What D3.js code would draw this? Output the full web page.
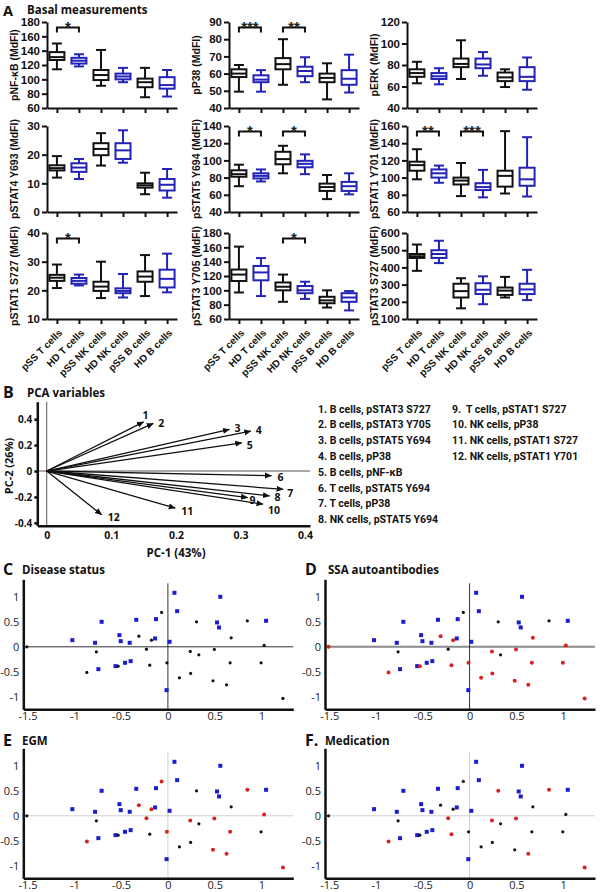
<!DOCTYPE html>
<html>
<head>
<meta charset="utf-8">
<script src="https://cdn.jsdelivr.net/npm/d3@7"></script>
<style>
body { margin: 0; background: #fff; }
svg { display: block; }
</style>
</head>
<body>
<svg id="fig" width="600" height="892"></svg>
<script>
// ---------- A: basal measurements, boxes are [min, q1, median, q3, max]
const cellGroups = ["pSS T cells", "HD T cells", "pSS NK cells", "HD NK cells", "pSS B cells", "HD B cells"];
const markerLabels = ["pNF-κB (MdFI)", "pP38 (MdFI)", "pERK (MdFI)",
    "pSTAT4 Y693 (MdFI)", "pSTAT5 Y694 (MdFI)", "pSTAT1 Y701 (MdFI)",
    "pSTAT1 S727 (MdFI)", "pSTAT3 Y705 (MdFI)", "pSTAT3 S727 (MdFI)"];
const markerRanges = [[60, 180], [40, 90], [40, 120], [0, 30], [40, 140], [60, 160], [10, 40], [60, 180], [100, 600]];
const markerTickSteps = [20, 10, 20, 10, 20, 20, 10, 20, 100];

const nfkbBoxes = [[114, 127, 131, 138, 150], [118, 122, 126, 130, 135], [91, 99, 106, 113, 141], [96, 100, 104, 108, 116], [75, 89, 96, 101, 116], [76, 87, 92, 103, 113]];
const p38Boxes = [[49.5, 58, 60, 62.5, 65], [49.5, 55, 56.5, 59, 62], [53.5, 62.5, 65.5, 69, 80], [55, 58.5, 61.5, 64, 69.5], [45, 55, 57.5, 60, 66], [49, 53.5, 57, 62, 71]];
const erkBoxes = [[63, 69, 72.5, 76, 83], [62, 67, 69.5, 72.5, 77], [67, 78, 81, 86, 103], [70, 77, 80.5, 86, 92], [59.5, 65, 68.5, 73, 76], [57, 65, 69, 78, 87]];
const stat4Boxes = [[12, 14.5, 15.3, 16.3, 19.5], [11.5, 14, 15.5, 17, 18.5], [16.2, 19.8, 22, 24, 27.5], [17.2, 18.5, 21.5, 24, 28.5], [6.2, 8.5, 9.3, 10, 13.7], [5, 7.5, 9.5, 11.5, 15]];
const stat5Boxes = [[70, 81, 84, 88.5, 95], [75.5, 79, 82, 85, 89.5], [85, 95.5, 101.5, 110, 117], [84, 92, 96, 99.5, 107], [55, 64.5, 69, 73, 83], [60.5, 64.5, 70, 75, 85]];
const stat1YBoxes = [[98, 108, 114.5, 118.5, 133], [94, 100, 105, 109.5, 114], [78.5, 92, 96.5, 100, 117], [77, 85.5, 89, 93.5, 109], [81.5, 89.5, 102, 108, 154], [78, 90.5, 98, 111.5, 147]];
const stat1SBoxes = [[20.8, 23.3, 24.4, 25.4, 29], [21.7, 22.3, 23.3, 24.3, 25.5], [17.3, 19.8, 21.3, 23, 30], [17.5, 19, 19.8, 20.7, 25.7], [18, 23, 24.8, 26.6, 32.3], [19.3, 21, 24, 27.2, 32.8]];
const stat3YBoxes = [[97, 113, 122, 129, 161], [92, 114, 125, 134, 145], [84, 100, 105, 111, 122], [88, 96, 100, 106, 112], [76, 82, 86, 91, 100], [72, 84, 90, 96, 99]];
const stat3SBoxes = [[380, 455, 465, 478, 533], [425, 455, 478, 500, 555], [162, 225, 262, 305, 337], [186, 245, 270, 308, 348], [225, 240, 265, 283, 345], [210, 245, 272, 305, 386]];
const markerBoxes = [nfkbBoxes, p38Boxes, erkBoxes, stat4Boxes, stat5Boxes, stat1YBoxes, stat1SBoxes, stat3YBoxes, stat3SBoxes];

// significance brackets: [index of first group in pair, stars]
const markerSig = [[[0, "*"]], [[0, "***"], [2, "**"]], [], [], [[0, "*"], [2, "*"]], [[0, "**"], [2, "***"]], [[0, "*"]], [[2, "*"]], []];

// ---------- B: PCA loadings
const pcaLoadX = [0.150, 0.165, 0.283, 0.316, 0.302, 0.348, 0.366, 0.345, 0.311, 0.335, 0.199, 0.085];
const pcaLoadY = [0.379, 0.367, 0.321, 0.308, 0.218, -0.036, -0.141, -0.192, -0.205, -0.256, -0.287, -0.338];
const pcaVarNames = ["B cells, pSTAT3 S727", "B cells, pSTAT3 Y705", "B cells, pSTAT5 Y694", "B cells, pP38",
    "B cells, pNF-κB", "T cells, pSTAT5 Y694", "T cells, pP38", "NK cells, pSTAT5 Y694",
    " T cells, pSTAT1 S727", "NK cells, pP38", "NK cells, pSTAT1 S727", "NK cells, pSTAT1 Y701"];
const pcaXTicks = [0, 0.1, 0.2, 0.3, 0.4];
const pcaYTicks = [-0.4, -0.2, 0, 0.2, 0.4];

// ---------- C-F: PCA scores of the subjects (21 HD, then 24 pSS)
const scoreX = [-1.021, -0.778, -0.708, -0.743, -0.518, -0.504, -0.408, -0.338, -0.56, -0.458, -0.398,
    -0.127, -0.137, 0.018, 0.07, 0.099, -0.014, 0.56, 0.525, 0.546, 1.049,
    -1.507, -0.866, -0.764, -0.532, -0.31, -0.229, -0.176, -0.067, -0.194, -0.011, 0.123, 0.239,
    0.243, 0.306, 0.331, 0.496, 0.482, 0.627, 0.665, 0.676, 0.849, 1.028, 0.996, 1.229];
const scoreY = [0.133, 0.08, 0.5, -0.447, 0.233, 0.113, 0.08, 0.54, -0.387, -0.32, -0.287,
    0.553, 0.167, 0.1, 1.08, 0.713, -0.867, 1.0, 0.487, 0.387, 0.52,
    0, -0.513, -0.1, -0.387, 0.213, -0.047, 0.133, 0.687, -0.367, -0.32, -0.62, -0.093,
    -0.533, 0.5, -0.16, -0.053, -0.68, -0.76, -0.32, 0.18, 0.52, 0.027, -0.32, -1.033];
const hdCodes = Array(21).fill("H");
const diseaseGroup = hdCodes.concat(Array(24).fill("N"));
const ssaGroup = hdCodes.concat(["P", "P", "N", "P", "P", "N", "P", "N", "P", "P", "P", "P", "P", "N", "N", "P", "P", "P", "P", "P", "N", "P", "P", "P"]);
const egmGroup = hdCodes.concat(["N", "P", "N", "N", "P", "P", "P", "P", "N", "P", "N", "P", "N", "N", "N", "P", "P", "P", "P", "N", "P", "P", "N", "P"]);
const medGroup = hdCodes.concat(["N", "P", "N", "N", "N", "P", "N", "N", "P", "N", "N", "P", "N", "P", "N", "P", "N", "P", "N", "N", "P", "N", "N", "P"]);
const scoreXTicks = [-1.5, -1, -0.5, 0, 0.5, 1];
const scoreYTicks = [-1, -0.5, 0, 0.5, 1];

const BLACK = "#111";
const BLUE = "#2323b8";
const DOT_BLUE = "#1c1cd0";
const RED = "#d8231c";
const tickFont = "'Liberation Sans', Arial, sans-serif";
const titleFont = "'Open Sans', sans-serif";

const svg = d3.select("#fig");

function styleAxis(g, size, width) {
    g.selectAll("path.domain").attr("stroke", BLACK).attr("stroke-width", width);
    g.selectAll(".tick line").attr("stroke", BLACK).attr("stroke-width", width);
    g.selectAll("text").attr("fill", BLACK).attr("font-size", size);
}

// ---------- panel A
const colX = [47, 229, 407];
const rowTop = [22, 126, 233];
const plotW = 130, plotH = 86;

markerBoxes.forEach((boxes, i) => {
    const col = i % 3, row = Math.floor(i / 3);
    const x0 = colX[col], top = rowTop[row], bottom = top + plotH;
    const x = d3.scalePoint().domain(cellGroups).range([x0, x0 + plotW]).padding(0.45);
    const y = d3.scaleLinear().domain(markerRanges[i]).range([bottom, top]);
    const ticks = d3.range(markerRanges[i][0], markerRanges[i][1] + 1e-6, markerTickSteps[i]);
    const g = svg.append("g").attr("font-family", tickFont).attr("font-weight", "bold");

    const ya = g.append("g").attr("transform", `translate(${x0},0)`)
        .call(d3.axisLeft(y).tickValues(ticks).tickSize(5).tickSizeOuter(0).tickPadding(2).tickFormat(d => String(d)));
    styleAxis(ya, 11.5, 2);
    ya.attr("font-family", null);

    const xa = g.append("g").attr("transform", `translate(0,${bottom})`)
        .call(d3.axisBottom(x).tickSize(5).tickSizeOuter(0).tickFormat(row === 2 ? d => d : () => ""));
    styleAxis(xa, 10, 2);
    xa.attr("font-family", null);
    xa.selectAll("text")
        .attr("text-anchor", "end")
        .attr("dy", "0.35em")
        .attr("transform", "translate(3,12) rotate(-45)")
        .attr("y", 0);

    g.append("text")
        .attr("transform", `translate(${x0 - 29},${(top + bottom) / 2}) rotate(-90)`)
        .attr("text-anchor", "middle")
        .attr("font-size", 10.5)
        .attr("fill", BLACK)
        .text(markerLabels[i]);

    const bw = 15, cw = 10;
    boxes.forEach((b, j) => {
        const cx = x(cellGroups[j]);
        const c = j % 2 ? BLUE : BLACK;
        const bx = g.append("g").attr("stroke", c).attr("stroke-width", 2).attr("fill", "none");
        bx.append("line").attr("x1", cx).attr("x2", cx).attr("y1", y(b[0])).attr("y2", y(b[4]));
        bx.append("line").attr("x1", cx - cw / 2).attr("x2", cx + cw / 2).attr("y1", y(b[0])).attr("y2", y(b[0]));
        bx.append("line").attr("x1", cx - cw / 2).attr("x2", cx + cw / 2).attr("y1", y(b[4])).attr("y2", y(b[4]));
        bx.append("rect").attr("x", cx - bw / 2).attr("width", bw)
            .attr("y", y(b[3])).attr("height", y(b[1]) - y(b[3])).attr("fill", "#fff");
        bx.append("line").attr("x1", cx - bw / 2).attr("x2", cx + bw / 2).attr("y1", y(b[2])).attr("y2", y(b[2]));
    });

    markerSig[i].forEach(([p, stars]) => {
        const xa1 = x(cellGroups[p]), xa2 = x(cellGroups[p + 1]);
        const by = top + 5.5;
        g.append("path")
            .attr("d", `M${xa1},${by + 5}V${by}H${xa2}V${by + 5}`)
            .attr("fill", "none").attr("stroke", BLACK).attr("stroke-width", 2);
        g.append("text").attr("x", (xa1 + xa2) / 2).attr("y", by + 4)
            .attr("text-anchor", "middle").attr("font-size", 15).attr("fill", "#222")
            .text(stars);
    });
});

// ---------- panel B
{
    const x = d3.scaleLinear().domain([-0.0146, 0.4076]).range([37.3, 310]);
    const y = d3.scaleLinear().domain([-0.422, 0.535]).range([525.7, 401.7]);
    const g = svg.append("g").attr("font-family", titleFont).attr("font-weight", "bold");

    g.append("line").attr("x1", x(0)).attr("x2", x(0)).attr("y1", y.range()[1]).attr("y2", y.range()[0])
        .attr("stroke", "#555").attr("stroke-width", 1);
    g.append("line").attr("x1", x.range()[0]).attr("x2", x.range()[1]).attr("y1", y(0)).attr("y2", y(0))
        .attr("stroke", "#555").attr("stroke-width", 1);

    const ya = g.append("g").attr("transform", `translate(${x.range()[0]},0)`)
        .call(d3.axisLeft(y).tickValues(pcaYTicks).tickSize(3).tickSizeOuter(0).tickPadding(2).tickFormat(d => String(d)));
    styleAxis(ya, 10, 2.5);
    ya.attr("font-family", null);
    const xa = g.append("g").attr("transform", `translate(0,${y.range()[0]})`)
        .call(d3.axisBottom(x).tickValues(pcaXTicks).tickSize(0).tickSizeOuter(0).tickPadding(6).tickFormat(d => String(d)));
    styleAxis(xa, 10.5, 2.5);
    xa.attr("font-family", null);

    svg.append("defs").append("marker")
        .attr("id", "arrowhead").attr("viewBox", "0 -4 8 8")
        .attr("refX", 7.5).attr("refY", 0)
        .attr("markerWidth", 7).attr("markerHeight", 7)
        .attr("markerUnits", "userSpaceOnUse").attr("orient", "auto")
        .append("path").attr("d", "M0,-3.5L8,0L0,3.5Z").attr("fill", BLACK);

    const labelNudge = [[-1, -7], [5, 0], [5, -1], [5, -1], [5, 2], [6, 1], [4, 4], [5, 1], [2, 2], [5, 6], [6, 3], [6, 2]];
    pcaLoadX.forEach((lx, k) => {
        const tx = x(lx), ty = y(pcaLoadY[k]);
        g.append("line").attr("x1", x(0)).attr("y1", y(0)).attr("x2", tx).attr("y2", ty)
            .attr("stroke", BLACK).attr("stroke-width", 1.3).attr("marker-end", "url(#arrowhead)");
        g.append("text").attr("x", tx + labelNudge[k][0]).attr("y", ty + labelNudge[k][1])
            .attr("dominant-baseline", "central").attr("font-size", 10.5).attr("fill", BLACK)
            .text(k + 1);
    });

    g.append("text").attr("transform", `translate(13,466) rotate(-90)`).attr("text-anchor", "middle")
        .attr("font-size", 11).attr("fill", BLACK).text("PC-2 (26%)");
    g.append("text").attr("x", 176).attr("y", 557).attr("text-anchor", "middle")
        .attr("font-size", 11.5).attr("fill", BLACK).text("PC-1 (43%)");

    const leg = svg.append("g").attr("font-family", "Roboto, sans-serif").attr("font-weight", "bold")
        .attr("font-size", 10.5).attr("fill", BLACK);
    pcaVarNames.forEach((name, k) => {
        const c = k < 8 ? 0 : 1, r = k < 8 ? k : k - 8;
        leg.append("text").attr("x", c ? 452 : 318).attr("y", 409 + r * 15.8)
            .attr("dominant-baseline", "central").attr("xml:space", "preserve")
            .text(`${k + 1}. ${name}`);
    });
}

// ---------- panels C-F
const groupColor = { H: DOT_BLUE, N: BLACK, P: RED };

function scorePanel(left, top, groups, lineStyles) {
    const x = d3.scaleLinear().domain([-1.545, 1.34]).range([left, left + 270]);
    const y = d3.scaleLinear().domain([-1.25, 1.35]).range([top + 130, top]);
    const g = svg.append("g");

    g.append("line").attr("x1", x.range()[0]).attr("x2", x.range()[1]).attr("y1", y(0)).attr("y2", y(0))
        .attr("stroke", lineStyles.h[0]).attr("stroke-width", lineStyles.h[1]);
    g.append("line").attr("x1", x(0)).attr("x2", x(0)).attr("y1", y(1.27)).attr("y2", y.range()[0])
        .attr("stroke", lineStyles.v[0]).attr("stroke-width", lineStyles.v[1]);

    const ya = g.append("g").attr("transform", `translate(${x.range()[0]},0)`)
        .call(d3.axisLeft(y).tickValues(scoreYTicks).tickSize(0).tickSizeOuter(0).tickPadding(4).tickFormat(d => String(d)));
    styleAxis(ya, 11, 2.5);
    ya.attr("font-family", titleFont).selectAll("text").attr("fill", "#222");
    const xa = g.append("g").attr("transform", `translate(0,${y.range()[0]})`)
        .call(d3.axisBottom(x).tickValues(scoreXTicks).tickSize(0).tickSizeOuter(0).tickPadding(3).tickFormat(d => String(d)));
    styleAxis(xa, 11, 2.5);
    xa.attr("font-family", titleFont).selectAll("text").attr("fill", "#222");

    scoreX.forEach((sx, k) => {
        const grp = groups[k];
        const px = x(sx), py = y(scoreY[k]);
        if (grp === "H") {
            g.append("rect").attr("x", px - 2).attr("y", py - 2).attr("width", 4).attr("height", 4)
                .attr("fill", groupColor.H);
        } else {
            g.append("circle").attr("cx", px).attr("cy", py).attr("r", grp === "P" ? 2 : 1.6)
                .attr("fill", groupColor[grp]);
        }
    });
}

scorePanel(23.3, 579.3, diseaseGroup, { h: ["#333", 1], v: ["#333", 1] });
scorePanel(325, 579.3, ssaGroup, { h: ["#8a8a8a", 2], v: ["#333", 1] });
scorePanel(23.3, 748.3, egmGroup, { h: ["#cfcfcf", 1], v: ["#cfcfcf", 1] });
scorePanel(325, 748.3, medGroup, { h: ["#cfcfcf", 1], v: ["#cfcfcf", 1] });

// ---------- panel titles
const panelLetters = [["A", 3, 15.5, 14.5], ["B", 3, 398, 16], ["C", 3, 575, 16], ["D", 305, 575, 16], ["E", 3, 746, 16], ["F.", 305, 746, 16]];
const panelTitles = [["Basal measurements", 27, 14], ["PCA variables", 27, 397], ["Disease status", 22, 574],
    ["SSA autoantibodies", 328, 574], ["EGM", 22, 745], ["Medication", 325, 745]];
const tg = svg.append("g").attr("font-family", titleFont).attr("font-weight", "bold").attr("fill", BLACK);
panelLetters.forEach(([t, px, py, fs]) => tg.append("text").attr("x", px).attr("y", py).attr("font-size", fs).text(t));
panelTitles.forEach(([t, px, py]) => tg.append("text").attr("x", px).attr("y", py).attr("font-size", 11.5).text(t));
</script>
</body>
</html>
